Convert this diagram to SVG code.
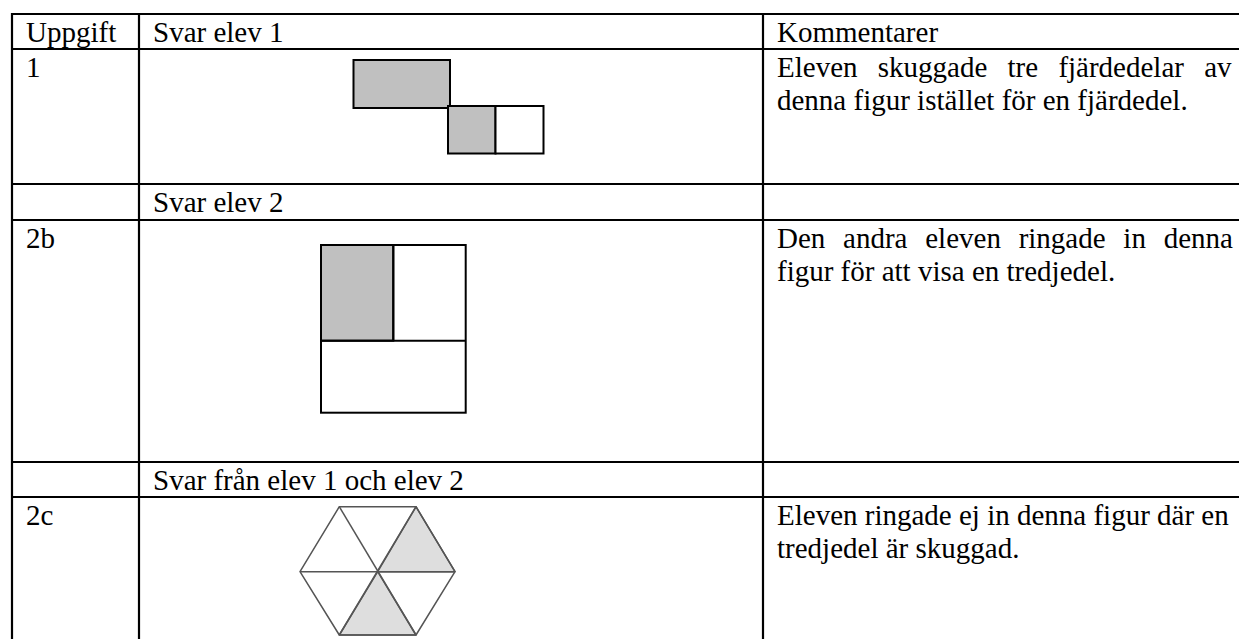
<svg xmlns="http://www.w3.org/2000/svg" width="1239" height="639" viewBox="0 0 1239 639">
<style>
text{font-family:"Liberation Serif","Times New Roman",serif;font-size:29px;fill:#000}
.grid line{stroke:#000;stroke-width:2.2}
.fig{stroke:#000;stroke-width:2}
.shade{fill:#c0c0c0}
.hex{stroke:#555;stroke-width:1.5;stroke-linejoin:round}
</style>
<rect width="1239" height="639" fill="#fff"/>
<g id="connectors" class="grid">
<line x1="11" y1="14" x2="1239" y2="14"/>
<line x1="11" y1="49" x2="1239" y2="49"/>
<line x1="11" y1="184" x2="1239" y2="184"/>
<line x1="11" y1="220" x2="1239" y2="220"/>
<line x1="11" y1="462" x2="1239" y2="462"/>
<line x1="11" y1="497" x2="1239" y2="497"/>
<line x1="12" y1="13" x2="12" y2="639"/>
<line x1="139" y1="13" x2="139" y2="639"/>
<line x1="763" y1="13" x2="763" y2="639"/>
</g>
<g id="header">
<text x="26" y="41.5">Uppgift</text>
<text x="153" y="41.5">Svar elev 1</text>
<text x="777" y="41.5">Kommentarer</text>
</g>
<g id="row1">
<text x="26" y="76.5">1</text>
<text x="777" y="76.5" word-spacing="13">Eleven skuggade tre fjärdedelar av</text>
<text x="777" y="109.5">denna figur istället för en fjärdedel.</text>
</g>
<g id="fig1">
<rect class="fig shade" x="353.5" y="60" width="96.5" height="48"/>
<rect class="fig shade" x="448" y="106" width="47.5" height="47.5"/>
<rect class="fig" fill="#fff" x="495.5" y="106" width="48" height="47.5"/>
</g>
<g id="row-svar2">
<text x="153" y="211.5">Svar elev 2</text>
</g>
<g id="row2b">
<text x="26" y="247.5">2b</text>
<text x="777" y="247.5" word-spacing="10.5">Den andra eleven ringade in denna</text>
<text x="777" y="280.5">figur för att visa en tredjedel.</text>
</g>
<g id="fig2b">
<rect class="fig shade" x="321" y="245" width="72.3" height="95.7"/>
<rect class="fig" fill="none" x="321" y="245" width="144.7" height="167.7"/>
<line class="fig" x1="393.3" y1="245" x2="393.3" y2="340.7"/>
<line class="fig" x1="321" y1="340.7" x2="465.7" y2="340.7"/>
</g>
<g id="row-svar12">
<text x="153" y="489.5">Svar från elev 1 och elev 2</text>
</g>
<g id="row2c">
<text x="26" y="524.5">2c</text>
<text x="777" y="524.5">Eleven ringade ej in denna figur där en</text>
<text x="777" y="557.5">tredjedel är skuggad.</text>
</g>
<g id="fig2c">
<polygon class="hex" fill="#dedede" points="377.7,571.7 416,506.7 455,571.7"/>
<polygon class="hex" fill="#dedede" points="377.7,571.7 416,635 339.3,635"/>
<polygon class="hex" fill="none" points="300,571.7 339.3,506.7 416,506.7 455,571.7 416,635 339.3,635"/>
<line class="hex" x1="339.3" y1="506.7" x2="416" y2="635"/>
<line class="hex" x1="416" y1="506.7" x2="339.3" y2="635"/>
<line class="hex" stroke="#000" x1="300" y1="571.7" x2="455" y2="571.7"/>
</g>
</svg>
